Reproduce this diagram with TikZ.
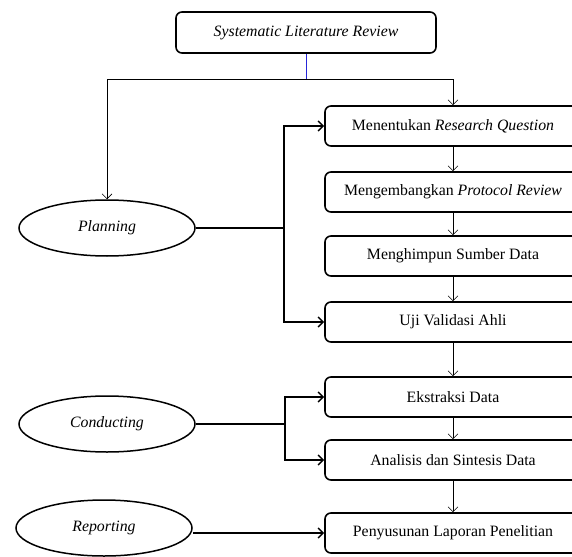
\documentclass[tikz,border=0pt]{standalone}
\usepackage{fontspec}
\setmainfont{Liberation Serif}
\usetikzlibrary{arrows.meta,shapes.geometric,positioning}
\colorlet{colorLine}{black}
\colorlet{colorSplit}{blue!70!gray}
\tikzset{
   every path/.style={>={Straight Barb[length=5pt,width=10pt]}},
   stage/.style={rectangle,rounded corners=6pt,draw=colorLine,line width=1.6pt,minimum width=256pt,minimum height=40pt,font=\fontsize{15.8}{18}\selectfont},
   phase/.style={ellipse,draw=colorLine,line width=1.5pt,minimum width=176pt,minimum height=56pt,font=\fontsize{15.8}{18}\selectfont\itshape},
   flow/.style={->,draw=colorLine,line width=0.6pt},
   link/.style={->,draw=colorLine,line width=1.5pt},
   bar/.style={draw=colorLine,line width=1.5pt},
}

\begin{document}
\begin{tikzpicture}[x=1pt,y=-1pt]
\clip (0,0) rectangle (572,556);
\fill[white] (0,0) rectangle (572,556);

\node[stage,minimum width=260pt,minimum height=41pt] (slr) at (306,32.5) {\textit{Systematic Literature Review}};

\node[stage] (rq) at (453,126) {Menentukan \textit{Research Question}};
\node[stage] (protocol) at (453,192) {Mengembangkan \textit{Protocol Review}};
\node[stage] (sumber) at (453,256) {Menghimpun Sumber Data};
\node[stage] (validasi) at (453,322) {Uji Validasi Ahli};
\node[stage] (ekstraksi) at (453,397) {Ekstraksi Data};
\node[stage] (analisis) at (453,460) {Analisis dan Sintesis Data};
\node[stage] (laporan) at (453,533) {Penyusunan Laporan Penelitian};

\node[phase] (planning) at (107,228) {Planning};
\node[phase] (conducting) at (107,424) {Conducting};
\node[phase] (reporting) at (104,528) {Reporting};

\path (slr.south) ++(0,26) coordinate (split);
\draw[colorSplit,line width=0.6pt] (slr.south) -- (split);
\draw[flow] (split) -| (planning.north);
\draw[flow] (split) -| (rq.north);

\draw[flow] (rq) -- (protocol);
\draw[flow] (protocol) -- (sumber);
\draw[flow] (sumber) -- (validasi);
\draw[flow] (validasi) -- (ekstraksi);
\draw[flow] (ekstraksi) -- (analisis);
\draw[flow] (analisis) -- (laporan);

\coordinate (pjoin) at (284,228);
\draw[bar] (planning.east) -- (pjoin);
\draw[link] (pjoin) |- (rq.west);
\draw[link] (pjoin) |- (validasi.west);

\coordinate (cjoin) at (285,424);
\draw[bar] (conducting.east) -- (cjoin);
\draw[link] (cjoin) |- (ekstraksi.west);
\draw[link] (cjoin) |- (analisis.west);

\draw[link] (reporting.east |- laporan.west) -- (laporan.west);
\end{tikzpicture}
\end{document}
